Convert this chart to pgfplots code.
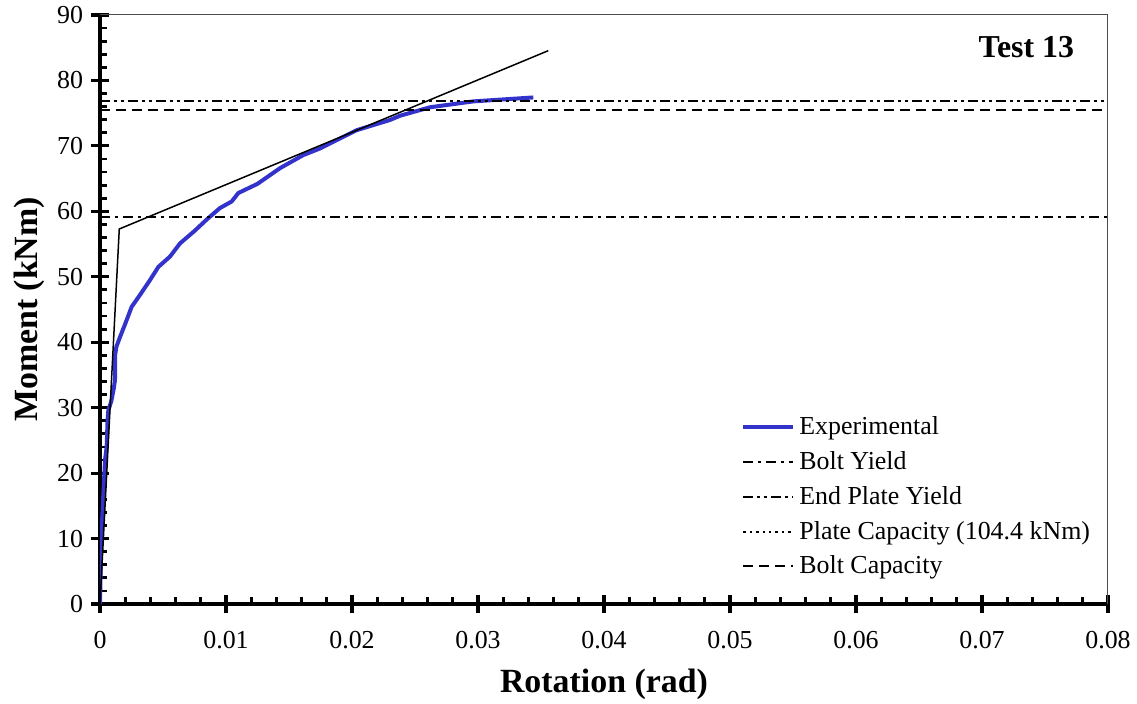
\documentclass[border=0pt]{standalone}
\usepackage{fontspec}
\setmainfont{Liberation Serif}
\usepackage{pgfplots}
\pgfplotsset{compat=1.18}
\definecolor{expblue}{RGB}{51,51,204}
\begin{document}
\begin{tikzpicture}
\useasboundingbox (-50bp,-50bp) rectangle (518.5bp,302bp);
\begin{axis}[
  at={(0,0)}, anchor=south west,
  scale only axis, width=504bp, height=294.5bp,
  xmin=0, xmax=0.08, ymin=0, ymax=90,
  axis x line*=bottom, axis y line*=left,
  axis line style={line width=1.6bp, -},
  xtick={0,0.01,...,0.08}, ytick={0,10,...,90},
  minor x tick num=4, minor y tick num=4,
  tick align=inside,
  major tick length=9bp, minor tick length=3.5bp,
  major x tick style={line width=1.6bp, black, yshift=-4.5bp},
  major y tick style={line width=1.6bp, black, xshift=-4.5bp},
  minor tick style={line width=1.4bp, black},
  scaled x ticks=false,
  xticklabel style={/pgf/number format/fixed, /pgf/number format/precision=2, yshift=-10bp},
  yticklabel style={xshift=-5bp},
  /pgf/number format/assume math mode=true,
  tick label style={font=\fontsize{13}{15}\selectfont},
  xlabel={\textbf{Rotation (rad)}}, ylabel={\textbf{Moment (kNm)}},
  label style={font=\fontsize{17}{20}\selectfont},
  xlabel style={yshift=-3.5bp},
  ylabel style={yshift=-0.5bp},
  legend style={at={(0.63,0.333)}, anchor=north west, draw=none, fill=none,
    font=\fontsize{13}{15}\selectfont, row sep=3bp},
  legend cell align=left,
  legend image code/.code={\draw[#1] (0bp,0bp) -- (25bp,0bp);},
  clip=true,
]
\addplot[expblue, line width=2bp] coordinates {
(0,0) (0.00005,5) (0.00008,10) (0.00018,13.3) (0.0004,22) (0.00053,24) (0.0006,28)
(0.00066,29.6) (0.0009,31) (0.0011,33) (0.00119,34.2) (0.0012,38) (0.0013,39.3)
(0.00159,40.8) (0.002,42.8) (0.00251,45.4) (0.0032,47.3) (0.00397,49.5)
(0.00463,51.5) (0.00556,53.1) (0.00635,55.1) (0.0075,57) (0.0085,58.8)
(0.00952,60.5) (0.01045,61.5) (0.01098,62.8) (0.0125,64.2) (0.01429,66.6)
(0.01614,68.6) (0.01746,69.6) (0.02037,72.4) (0.02302,73.96) (0.0238,74.6)
(0.02619,75.9) (0.02963,76.8) (0.03439,77.4)
};
\addlegendentry{Experimental}
\addplot[black, line width=1bp, dash pattern=on 5bp off 2.5bp on 1.5bp off 2.5bp] coordinates {(0,59.1) (0.08,59.1)};
\addlegendentry{Bolt Yield}
\addplot[black, line width=1bp, dash pattern=on 5bp off 2bp on 1.5bp off 2bp on 1.5bp off 2bp] coordinates {(0,76.8) (0.08,76.8)};
\addlegendentry{End Plate Yield}
\addplot[black, line width=1bp, dash pattern=on 1.2bp off 2bp] coordinates {(0,104.4) (0.08,104.4)};
\addlegendentry{Plate Capacity (104.4 kNm)}
\addplot[black, line width=1bp, dash pattern=on 5bp off 3bp] coordinates {(0,75.5) (0.08,75.5)};
\addlegendentry{Bolt Capacity}
\addplot[black, line width=0.75bp, forget plot] coordinates {(0,0) (0.00153,57.3) (0.03558,84.55)};
\draw[line width=0.5bp, black!70] (rel axis cs:0,1) -- (rel axis cs:1,1) -- (rel axis cs:1,0);
\node[font=\fontsize{16}{19}\selectfont\bfseries] at (rel axis cs:0.919,0.946) {Test 13};
\end{axis}
\end{tikzpicture}
\end{document}
